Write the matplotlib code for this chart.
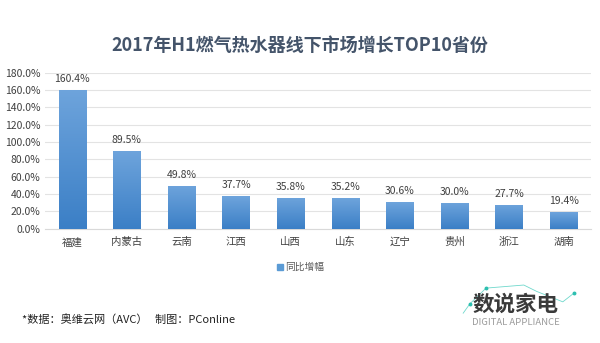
import numpy as np
import matplotlib.pyplot as plt
from matplotlib.colors import LinearSegmentedColormap
from matplotlib.ticker import FuncFormatter

plt.rcParams['font.family'] = ['Noto Sans CJK SC', 'DejaVu Sans']

provinces = ['福建', '内蒙古', '云南', '江西', '山西', '山东', '辽宁', '贵州', '浙江', '湖南']
growth = [160.4, 89.5, 49.8, 37.7, 35.8, 35.2, 30.6, 30.0, 27.7, 19.4]
yticks = [0, 20, 40, 60, 80, 100, 120, 140, 160, 180]

fig = plt.figure(figsize=(6.0, 3.43), dpi=100)
ax = fig.add_axes([0.075, 0.333, 0.91, 0.455])

x = np.arange(len(provinces))
bars = ax.bar(x, growth, width=0.5, color='none', zorder=3)

# vertical gradient fill, lighter at the top
cmap = LinearSegmentedColormap.from_list('bar', ['#3b7fc6', '#6ea4dc'])
grad = np.linspace(0, 1, 256).reshape(-1, 1)
for b in bars:
    x0, y0 = b.get_x(), b.get_y()
    w, h = b.get_width(), b.get_height()
    im = ax.imshow(grad, cmap=cmap, origin='lower', aspect='auto',
                   extent=(x0, x0 + w, y0, y0 + h), zorder=3)
    im.set_clip_path(b)
    ax.text(x0 + w / 2, h + 7, f'{h:.1f}%', ha='center', va='bottom',
            fontsize=7.5, color='#404040')

ax.set_xlim(-0.5, len(provinces) - 0.5)
ax.set_ylim(0, 180)
ax.set_yticks(yticks)
ax.yaxis.set_major_formatter(FuncFormatter(lambda v, p: f'{v:.1f}%'))
ax.set_xticks(x)
ax.set_xticklabels(provinces)
ax.tick_params(axis='both', length=0, labelsize=7.5, colors='#404040')
ax.tick_params(axis='x', pad=6)
ax.grid(axis='y', color='#e3e3e3', linewidth=0.8, zorder=0)
for s in ['top', 'right', 'left']:
    ax.spines[s].set_visible(False)
ax.spines['bottom'].set_color('#d9d9d9')

fig.text(0.5, 0.868, '2017年H1燃气热水器线下市场增长TOP10省份', ha='center',
         va='center', fontsize=13, fontweight='bold', color='#44546a')

# legend
fig.patches.append(plt.Rectangle((0.462, 0.213), 0.009, 0.016,
                                 transform=fig.transFigure, color='#5b9bd5'))
fig.text(0.475, 0.221, '同比增幅', ha='left', va='center', fontsize=7, color='#595959')

fig.text(0.037, 0.067, '*数据：奥维云网（AVC）   制图：PConline', ha='left',
         va='center', fontsize=8, color='#222222')

# logo: teal trend line with dots behind the brand text
lx = [0.772, 0.783, 0.810, 0.873, 0.895, 0.938, 0.957]
ly = [0.087, 0.114, 0.160, 0.169, 0.150, 0.120, 0.146]
fig.add_artist(plt.Line2D(lx, ly, transform=fig.transFigure, color='#6fd8cc',
                          linewidth=0.6))
fig.add_artist(plt.Line2D([lx[1], lx[2], lx[6]], [ly[1], ly[2], ly[6]],
                          transform=fig.transFigure, color='#2dbfb0', marker='o',
                          markersize=1.8, linestyle='none'))
fig.text(0.86, 0.113, '数说家电', ha='center', va='center', fontsize=15.5,
         fontweight='bold', color='#3a3a3a')
fig.text(0.86, 0.061, 'DIGITAL APPLIANCE', ha='center', va='center',
         fontsize=6.8, color='#9a9a9a')

fig.savefig('out.png', dpi=100)
